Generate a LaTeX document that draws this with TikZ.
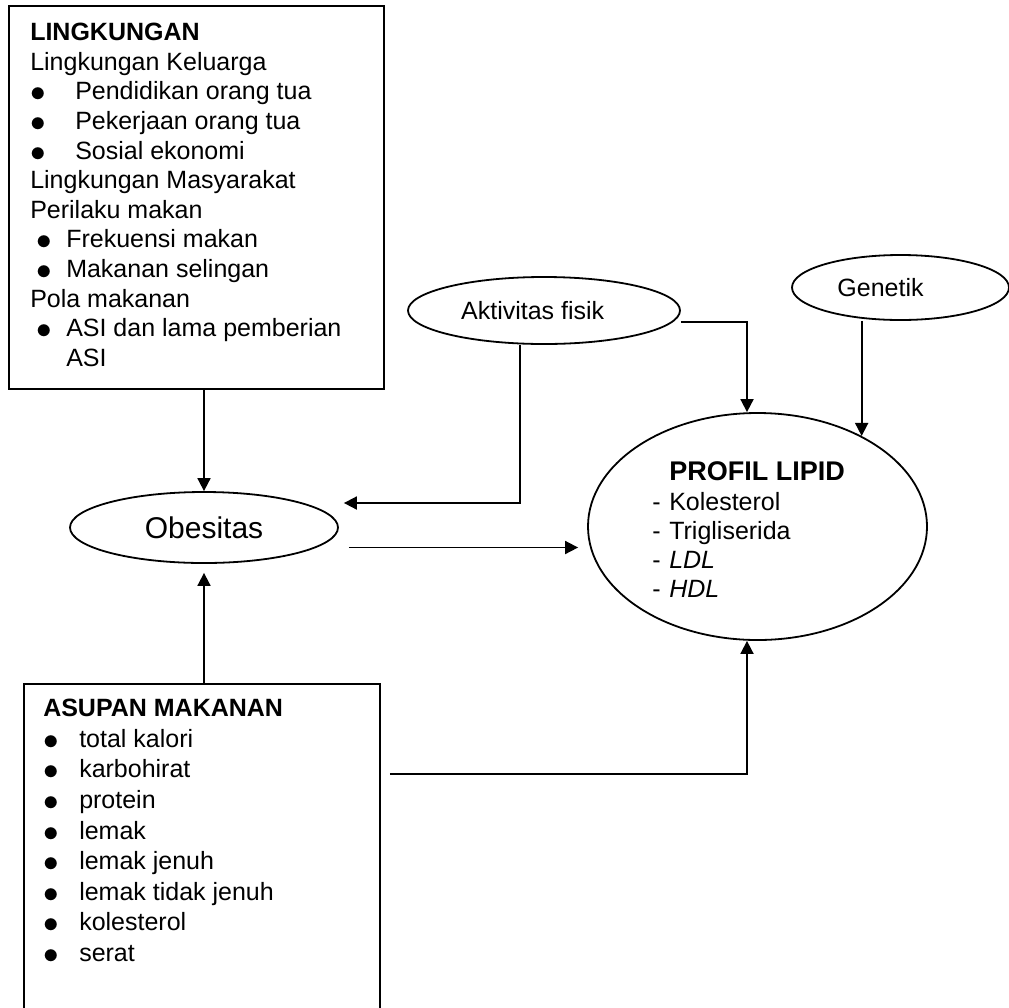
\documentclass[tikz,border=0pt]{standalone}
\usepackage{fontspec}
\setmainfont{Liberation Sans}
\usetikzlibrary{arrows.meta,positioning,shapes.geometric}

% list markers used inside the boxes
\newcommand{\bigdot}{\raisebox{-1.5pt}{\scalebox{1.35}{$\bullet$}}}
\newcommand{\envitem}[1]{\makebox[33.75pt][l]{\bigdot}#1}
\newcommand{\habititem}[1]{\makebox[27pt][l]{\hspace{4.5pt}\bigdot}#1}
\newcommand{\fooditem}[1]{\makebox[27pt][l]{\bigdot}#1}
\newcommand{\lipiditem}[1]{\makebox[12.75pt][l]{-}#1}

\begin{document}
\begin{tikzpicture}[
  x=0.75pt, y=-0.75pt,
  >={Triangle[length=9.75pt,width=9.75pt]},
  conn/.style={->, line width=1.35pt},
  box/.style={draw, line width=1.35pt, inner sep=0pt},
  oval/.style={draw, ellipse, line width=1.35pt, inner sep=0pt,
    font=\fontsize{18.75}{22.5}\selectfont},
  listtext/.style={anchor=north west, inner sep=0pt, align=left},
]
  \useasboundingbox (0,0) rectangle (1009,1007);
  \clip (0,0) rectangle (1009,1007);

  % Boxes
  \node[box, minimum width=281.25pt, minimum height=287.25pt] (env) at (196.5,197.5) {};
  \node[listtext, font=\fontsize{18.75}{22.2}\selectfont] (envtext) at (30,23) {%
    \textbf{LINGKUNGAN}\\
    Lingkungan Keluarga\\
    \envitem{Pendidikan orang tua}\\
    \envitem{Pekerjaan orang tua}\\
    \envitem{Sosial ekonomi}\\
    Lingkungan Masyarakat\\
    Perilaku makan\\
    \habititem{Frekuensi makan}\\
    \habititem{Makanan selingan}\\
    Pola makanan\\
    \habititem{ASI dan lama pemberian}\\
    \hspace*{27pt}ASI};

  \node[box, anchor=north, minimum width=267pt, minimum height=249pt] (food) at (202,683) {};
  \node[listtext, font=\fontsize{18.75}{22.95}\selectfont] (foodtext) at (43,699) {%
    \textbf{ASUPAN MAKANAN}\\
    \fooditem{total kalori}\\
    \fooditem{karbohirat}\\
    \fooditem{protein}\\
    \fooditem{lemak}\\
    \fooditem{lemak jenuh}\\
    \fooditem{lemak tidak jenuh}\\
    \fooditem{kolesterol}\\
    \fooditem{serat}};

  % Ellipses
  \node[oval, minimum width=201pt, minimum height=53.25pt,
    font=\fontsize{22.5}{27}\selectfont] (obes) at (204,527.5) {Obesitas};
  \node[oval, minimum width=204pt, minimum height=50.25pt] (aktv) at (544,310.5)
    {Aktivitas fisik\hspace*{17pt}};
  \node[oval, minimum width=162.75pt, minimum height=48.75pt] (gen) at (900.5,287.5)
    {Genetik\hspace*{30pt}};
  \node[oval, minimum width=254.25pt, minimum height=170.25pt] (profil) at (757.5,526.5) {};
  \node[listtext, font=\fontsize{18.75}{21.75}\selectfont] (profiltext) at (652,461) {%
    \hspace*{12.75pt}{\fontsize{20.25}{21.75}\selectfont\bfseries PROFIL LIPID}\\[1pt]
    \lipiditem{Kolesterol}\\
    \lipiditem{Trigliserida}\\
    \lipiditem{\textit{LDL}}\\
    \lipiditem{\textit{HDL}}};

  % Connectors
  \draw[conn] (env.south -| obes.north) -- (obes.north);
  \draw[conn] (food.north -| obes.south) -- ([shift={(0,9)}]obes.south);
  \draw[conn] ([shift={(-24,0)}]aktv.south) |- ([shift={(5,-24.5)}]obes.east);
  \draw[conn] ([shift={(0,11.5)}]aktv.east) -| ([shift={(-10.5,0)}]profil.north);
  \draw[conn] (gen.south -| profil.41.8) -- (profil.41.8);
  \draw[conn] ([shift={(10,20)}]obes.east) -- ([shift={(-9,21)}]profil.west);
  \draw[conn] ([shift={(9,91)}]food.north east) -| ([shift={(-10.5,0)}]profil.south);
\end{tikzpicture}
\end{document}
